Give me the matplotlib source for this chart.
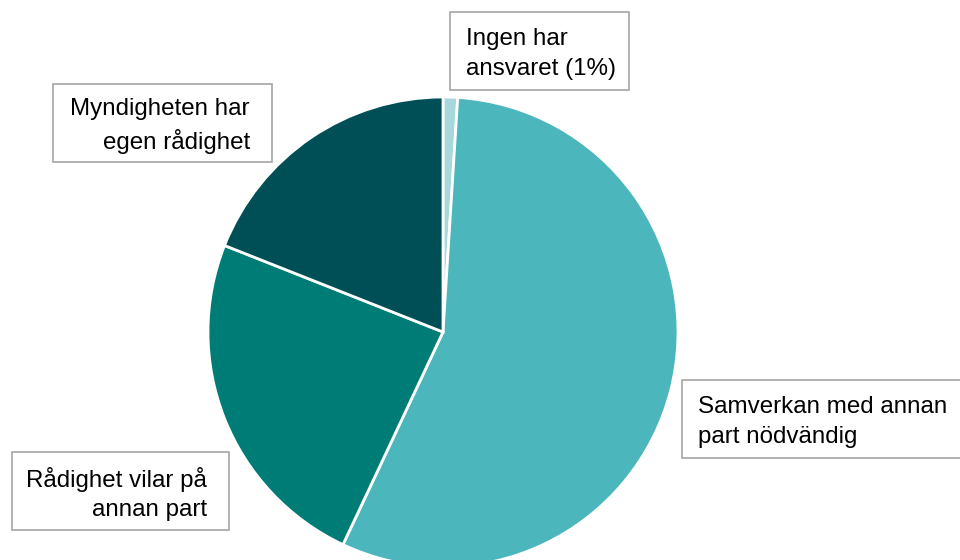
import matplotlib
matplotlib.use("Agg")
import matplotlib.pyplot as plt

plt.rcParams["font.family"] = ["Liberation Sans", "DejaVu Sans"]

# share of answers, clockwise from 12 o'clock
labels = ["Ingen har\nansvaret (1%)",
          "Samverkan med annan\npart nödvändig",
          "Rådighet vilar på\nannan part",
          "Myndigheten har\negen rådighet"]
values = [1, 56, 24, 19]
colors = ["#a8d8dc", "#4bb6bc", "#007c77", "#004f56"]

W, H = 960, 560
fig = plt.figure(figsize=(W / 100, H / 100), dpi=100)
ax = fig.add_axes([0, 0, 1, 1])

cx, cy, r = 443, H - 332, 235
ax.pie(values, colors=colors, startangle=90, counterclock=False,
       center=(cx, cy), radius=r, frame=True,
       wedgeprops=dict(edgecolor="white", linewidth=2))
ax.set_xlim(0, W)
ax.set_ylim(0, H)
ax.set_aspect("equal")
ax.axis("off")

# label boxes: (left, top, right, bottom) in pixels, text alignment
boxes = [(450, 12, 629, 90, "left"),
         (682, 380, 975, 458, "left"),
         (12, 452, 229, 530, "right"),
         (53, 84, 272, 162, "right")]
for lab, (x0, y0, x1, y1, ha) in zip(labels, boxes):
    ax.add_patch(plt.Rectangle((x0, H - y1), x1 - x0, y1 - y0, facecolor="white",
                               edgecolor="#a6a6a6", lw=1.2, clip_on=False, zorder=3))
    tx = x0 + 16 if ha == "left" else x1 - 22
    ax.text(tx, H - (y0 + y1) / 2 - 3, lab, ha=ha, va="center", ma=ha,
            fontsize=17.4, color="black", linespacing=1.46, zorder=4)

fig.savefig("out.png", dpi=100)
